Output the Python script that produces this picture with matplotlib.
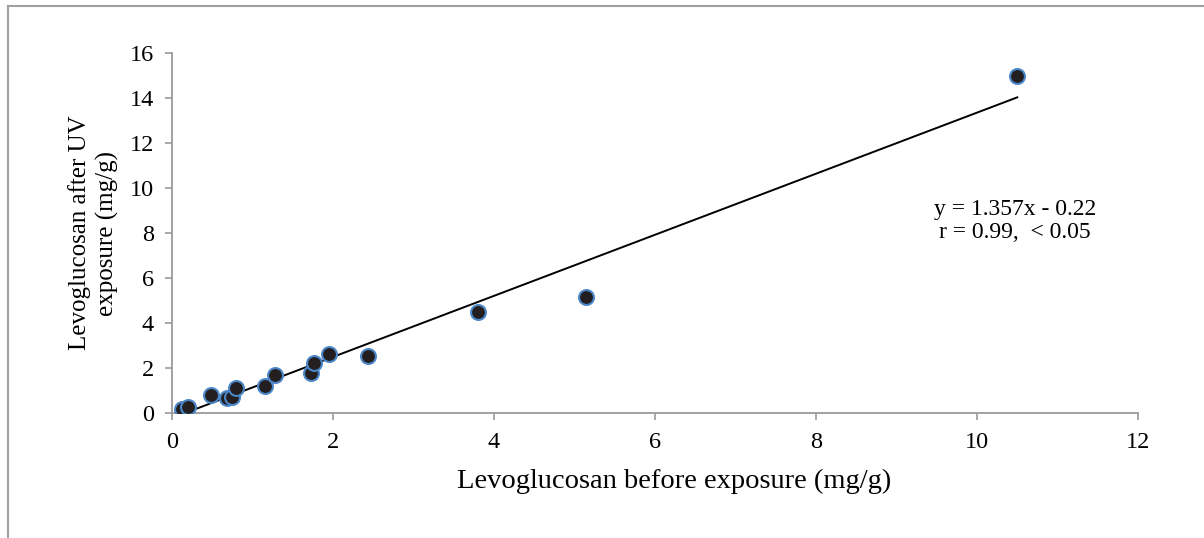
import matplotlib
matplotlib.use("Agg")
import matplotlib.pyplot as plt
from matplotlib.lines import Line2D
import numpy as np

x_before = [0.12, 0.20, 0.49, 0.68, 0.75, 0.80, 1.16, 1.28, 1.73, 1.76, 1.95, 2.43, 3.80, 5.14, 10.50]
y_after = [0.16, 0.27, 0.80, 0.68, 0.71, 1.12, 1.22, 1.67, 1.76, 2.21, 2.62, 2.54, 4.48, 5.16, 14.96]
slope = 1.357
intercept = -0.22
xticks = [0, 2, 4, 6, 8, 10, 12]
yticks = [0, 2, 4, 6, 8, 10, 12, 14, 16]

plt.rcParams['font.family'] = ['Liberation Serif', 'DejaVu Serif']

fig = plt.figure(figsize=(12.04, 5.38), dpi=100)
ax = fig.add_axes([0.1429, 0.2323, 0.8023, 0.6692])

grey = '#9a9a9a'
xs = np.array([min(x_before), max(x_before)])
ax.plot(xs, slope * xs + intercept, color='black', lw=1.4, zorder=2)
ax.scatter(x_before, y_after, s=115, facecolor='#231f20', edgecolor='#4a86c8', linewidth=1.5, zorder=3)

ax.set_xlim(0, 12)
ax.set_ylim(0, 16)
ax.set_xticks(xticks)
ax.set_yticks(yticks)
for s in ['top', 'right']:
    ax.spines[s].set_visible(False)
for s in ['left', 'bottom']:
    ax.spines[s].set_color(grey)
    ax.spines[s].set_linewidth(1.3)
ax.tick_params(direction='out', length=5, width=1.2, color=grey, labelsize=17.5)
ax.tick_params(axis='x', pad=9)
ax.tick_params(axis='y', pad=8)

ax.set_xlabel('Levoglucosan before exposure (mg/g)', fontsize=20.5, labelpad=11)
ax.xaxis.label.set_x(0.52)
ax.set_ylabel('Levoglucosan after UV\nexposure (mg/g)', fontsize=18, labelpad=8, linespacing=1.25)

ax.text(10.47, 8.54, 'y = 1.357x - 0.22\nr = 0.99,  < 0.05', ha='center', va='center',
        fontsize=17, linespacing=1.1)

fig.add_artist(Line2D([8/1204, 1], [1 - 6/538, 1 - 6/538], transform=fig.transFigure, color='#a0a0a0', lw=1.5))
fig.add_artist(Line2D([8/1204, 8/1204], [0, 1 - 6/538], transform=fig.transFigure, color='#a0a0a0', lw=1.5))

fig.savefig('out.png', dpi=100)
